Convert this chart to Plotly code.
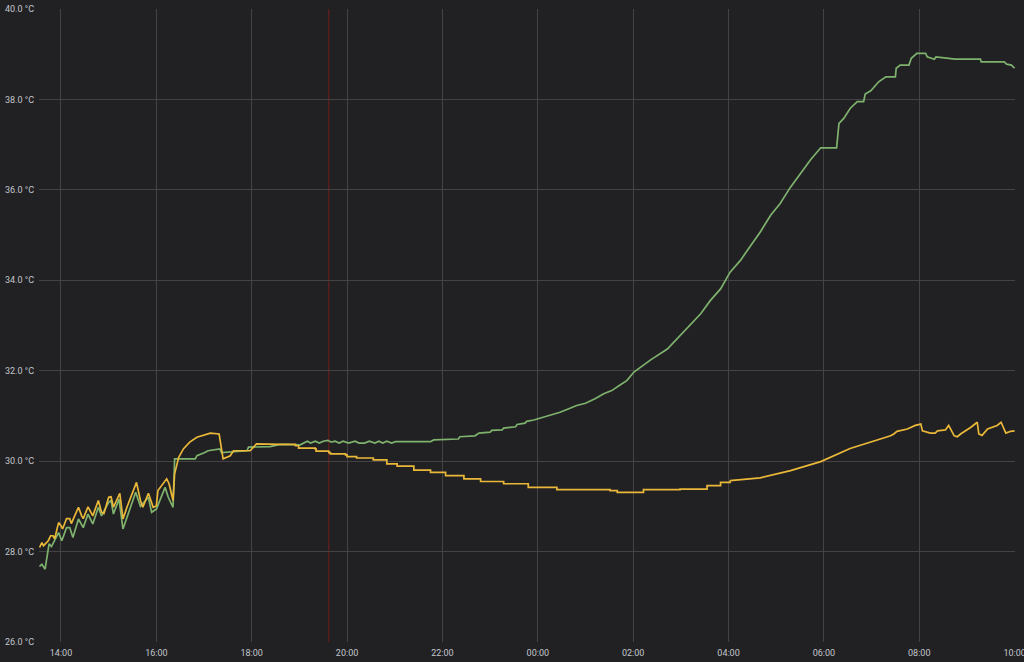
import plotly.graph_objects as go
from datetime import datetime, timedelta

# ---- data (time HH:MM, temperature °C) ----
green_times = ["13:33","13:36","13:40","13:45","13:48","13:52","13:57","14:01","14:07","14:11",
    "14:15","14:22","14:26","14:28","14:34","14:40","14:47","14:51","15:00","15:03","15:06",
    "15:13","15:18","15:23","15:34","15:40","15:50","15:54","16:00","16:11","16:15","16:21",
    "16:23","16:49","16:51","17:01","17:05","17:20","17:22","17:54","17:56","18:23","18:36",
    "19:01","19:05","19:10","19:14","19:20","19:25","19:30","19:36","19:40","19:45","19:50",
    "19:55","20:02","20:10","20:15","20:22","20:28","20:35","20:40","20:45","20:50","20:56",
    "21:01","21:45","21:49","22:20","22:22","22:41","22:46","23:00","23:02","23:15","23:17",
    "23:32","23:34","23:44","23:46","23:55","00:07","00:18","00:28","00:39","00:49","01:00",
    "01:12","01:23","01:33","01:44","01:52","02:01","02:22","02:43","02:59","03:12","03:25",
    "03:37","03:50","04:02","04:15","04:28","04:40","04:53","05:05","05:18","05:31","05:43",
    "05:56","06:16","06:19","06:25","06:33","06:42","06:50","06:52","06:59","07:09","07:18",
    "07:30","07:31","07:36","07:47","07:50","07:57","08:08","08:10","08:19","08:21","08:45",
    "09:17","09:18","09:47","09:50","09:56","10:00"]
green_vals = [27.67,27.72,27.61,28.17,28.11,28.24,28.42,28.24,28.53,28.53,
    28.31,28.72,28.57,28.53,28.83,28.61,28.98,28.79,29.09,29.13,28.83,
    29.16,28.50,28.76,29.31,29.00,29.20,28.87,28.94,29.42,29.20,28.98,
    30.05,30.05,30.12,30.19,30.23,30.27,30.19,30.23,30.31,30.32,30.37,
    30.36,30.40,30.44,30.40,30.44,30.40,30.44,30.46,30.42,30.44,30.40,
    30.44,30.40,30.44,30.40,30.40,30.44,30.40,30.44,30.40,30.44,30.40,
    30.43,30.43,30.47,30.49,30.54,30.56,30.62,30.64,30.68,30.69,30.73,
    30.76,30.81,30.84,30.88,30.91,30.97,31.03,31.08,31.16,31.23,31.28,
    31.38,31.49,31.56,31.69,31.78,31.97,32.24,32.48,32.78,33.00,33.26,
    33.55,33.81,34.18,34.44,34.77,35.07,35.44,35.70,36.06,36.36,36.66,
    36.93,36.93,37.47,37.58,37.80,37.95,37.95,38.12,38.19,38.39,38.50,
    38.50,38.69,38.76,38.76,38.91,39.02,39.02,38.94,38.89,38.94,38.89,
    38.89,38.83,38.83,38.78,38.76,38.69]

yellow_times = ["13:33","13:36","13:38","13:44","13:47","13:50","13:52","13:57","14:00","14:02",
    "14:07","14:11","14:13","14:22","14:26","14:28","14:34","14:37","14:40","14:47","14:51",
    "14:54","15:00","15:03","15:06","15:14","15:18","15:23","15:35","15:40","15:43","15:50",
    "15:52","15:56","16:00","16:02","16:13","16:16","16:21","16:23","16:28","16:34","16:42",
    "16:51","17:08","17:19","17:24","17:33","17:37","17:58","18:06","18:36","18:55","18:59",
    "19:20","19:21","19:37","19:39","19:58","20:00","20:12","20:33","20:50","21:03","21:24",
    "21:45","22:04","22:27","22:48","23:17","23:48","00:24","01:31","01:40","02:13","02:59",
    "03:33","03:50","04:02","04:40","05:18","05:56","06:33","07:11","07:24","07:28","07:32",
    "07:45","07:55","08:02","08:04","08:14","08:20","08:23","08:33","08:37","08:44","08:48",
    "08:52","09:05","09:13","09:15","09:19","09:26","09:38","09:43","09:49","09:55","10:00"]
yellow_vals = [28.09,28.20,28.13,28.24,28.35,28.35,28.28,28.64,28.57,28.50,
    28.73,28.73,28.62,28.98,28.79,28.73,28.99,28.90,28.79,29.13,28.87,
    28.84,29.20,29.21,28.98,29.29,28.72,28.98,29.53,29.13,28.98,29.29,
    29.20,28.98,29.01,29.35,29.61,29.50,29.13,29.72,30.08,30.27,30.42,
    30.53,30.62,30.60,30.05,30.12,30.23,30.23,30.38,30.37,30.34,30.29,
    30.27,30.22,30.19,30.16,30.14,30.10,30.07,30.03,29.94,29.89,29.80,
    29.75,29.68,29.61,29.55,29.50,29.42,29.37,29.35,29.31,29.37,29.38,
    29.46,29.53,29.57,29.63,29.79,29.99,30.28,30.49,30.56,30.60,30.66,
    30.71,30.79,30.82,30.67,30.62,30.62,30.67,30.69,30.79,30.56,30.54,
    30.60,30.75,30.86,30.60,30.57,30.71,30.79,30.86,30.62,30.66,30.67]

# section of the yellow series drawn as a staircase (sensor steps)
yellow_step_from = "18:36"
yellow_step_to = "04:02"

marker_time = "19:37"
y_ticks = [26, 28, 30, 32, 34, 36, 38, 40]
x_tick_hours = ["14:00","16:00","18:00","20:00","22:00","00:00","02:00","04:00","06:00","08:00","10:00"]

DAY1 = datetime(2021, 3, 14)

def to_dt(s):
    h, m = map(int, s.split(":"))
    base = DAY1 if h >= 12 else DAY1 + timedelta(days=1)
    return base + timedelta(hours=h, minutes=m)

gx = [to_dt(t) for t in green_times]
yx = [to_dt(t) for t in yellow_times]
i0 = yellow_times.index(yellow_step_from)
i1 = yellow_times.index(yellow_step_to)

BG = "#212124"
GRID = "#434346"
TXT = "#c3c6cc"
GREEN = "#7EB26D"
YELLOW = "#EAB839"
LW = 1.7

fig = go.Figure()
fig.add_trace(go.Scatter(x=gx, y=green_vals, mode="lines",
                         line=dict(color=GREEN, width=LW), showlegend=False))
fig.add_trace(go.Scatter(x=yx[:i0 + 1], y=yellow_vals[:i0 + 1], mode="lines",
                         line=dict(color=YELLOW, width=LW), showlegend=False))
fig.add_trace(go.Scatter(x=yx[i0:i1 + 1], y=yellow_vals[i0:i1 + 1], mode="lines",
                         line=dict(color=YELLOW, width=LW, shape="hv"), showlegend=False))
fig.add_trace(go.Scatter(x=yx[i1:], y=yellow_vals[i1:], mode="lines",
                         line=dict(color=YELLOW, width=LW), showlegend=False))

mt = to_dt(marker_time)
fig.add_shape(type="line", xref="x", yref="paper", x0=mt, x1=mt, y0=0, y1=1,
              line=dict(color="rgba(170,25,25,0.6)", width=1), layer="below")

x_start = DAY1 + timedelta(hours=13, minutes=32, seconds=20)
x_end = DAY1 + timedelta(days=1, hours=10, seconds=30)
tick_vals = [to_dt(t) for t in x_tick_hours]

fig.update_layout(
    width=1024, height=662,
    paper_bgcolor=BG, plot_bgcolor=BG,
    margin=dict(l=39, r=9, t=9, b=20, autoexpand=False),
    font=dict(family="Roboto, Inter, sans-serif", size=9, color=TXT),
    xaxis=dict(range=[x_start, x_end], tickmode="array", tickvals=tick_vals,
               ticktext=x_tick_hours, automargin=False, ticklabeloverflow="allow",
               showgrid=True, gridcolor=GRID, gridwidth=1, zeroline=False,
               showline=False, ticks="", ticklabelstandoff=4),
    yaxis=dict(range=[26, 40], tickmode="array", tickvals=y_ticks,
               ticktext=[f"{v:.1f} °C" for v in y_ticks], automargin=False,
               showgrid=True, gridcolor=GRID, gridwidth=1, zeroline=False,
               showline=False, ticks="", ticklabelstandoff=4),
)

fig.write_html("out.html", config={"displayModeBar": False},
               post_script="document.body.style.margin='0';document.body.style.overflow='hidden';")
